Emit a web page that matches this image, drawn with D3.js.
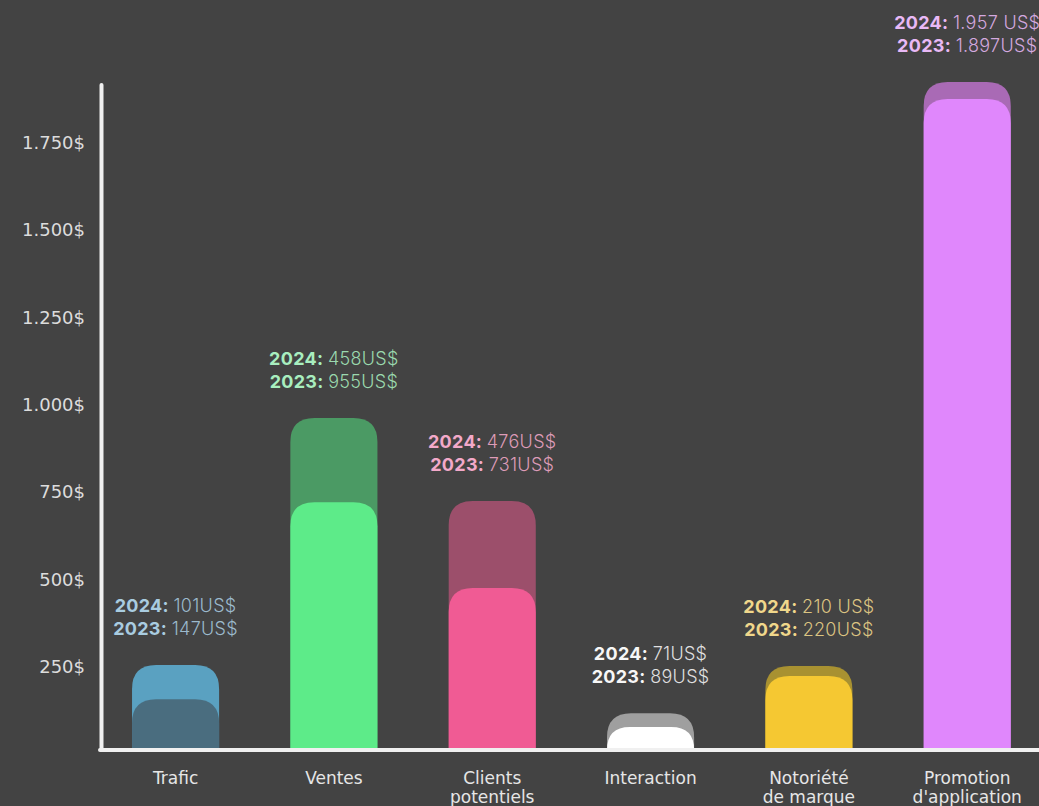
<!DOCTYPE html>
<html>
<head>
<meta charset="utf-8">
<script src="https://cdn.jsdelivr.net/npm/d3@7"></script>
<style>
  html, body { margin: 0; padding: 0; background: #434343; overflow: hidden; }
  svg { display: block; }
</style>
</head>
<body>
<div id="chart"></div>
<script>
// Categories (x axis), two lines where the label wraps
const categories = ['Trafic', 'Ventes', 'Clients\npotentiels', 'Interaction', 'Notoriété\nde marque', "Promotion\nd'application"];

// Bar heights as drawn (back = tall translucent bar, front = bright bar)
const backValues = [255, 962, 724, 117, 252, 1924];
const frontValues = [157, 721, 475, 77, 223, 1875];

// Annotation texts above each bar
const labels2024 = ['101US$', '458US$', '476US$', '71US$', '210 US$', '1.957 US$'];
const labels2023 = ['147US$', '955US$', '731US$', '89US$', '220US$', '1.897US$'];

// Y tick values
const yTicks = [250, 500, 750, 1000, 1250, 1500, 1750];

// Colours
const backColors = ['#5aa1c1', '#4b9a64', '#9c4f6b', '#9f9f9f', '#a89131', '#a96ab5'];
const frontColors = ['#4a6d7f', '#5deb89', '#f05b94', '#ffffff', '#f5c832', '#e087fc'];
const labelColors = ['#a9cce0', '#a8eebf', '#f3a9c9', '#f7f7f7', '#f0d78b', '#e9b9f6'];

const W = 1039, H = 806;
const axisY = 750;

const svg = d3.select('#chart').append('svg')
  .attr('width', W)
  .attr('height', H);

// Scales
const x = d3.scaleBand()
  .domain(categories)
  .range([96.4, 1046.4])
  .paddingInner(0.45)
  .paddingOuter(0.225);

const y = d3.scaleLinear()
  .domain([0, 2000])
  .range([754, 55.4]);

const locale = d3.formatLocale({ decimal: ',', thousands: '.', grouping: [3], currency: ['', '$'] });
const fmt = locale.format('$,');

// Y axis labels
const yAxis = svg.append('g')
  .attr('transform', 'translate(101,0)')
  .call(d3.axisLeft(y).tickValues(yTicks).tickSize(0).tickPadding(16).tickFormat(fmt));
yAxis.select('.domain').remove();
yAxis.selectAll('text')
  .attr('fill', '#dcdcdc')
  .attr('font-family', 'DejaVu Sans')
  .attr('font-size', 18);

// Rounded-top bar path
function barPath(x0, w, top, bottom, r) {
  const rr = Math.min(r, bottom - top, w / 2);
  return `M${x0},${bottom}V${top + rr}Q${x0},${top} ${x0 + rr},${top}` +
    `H${x0 + w - rr}Q${x0 + w},${top} ${x0 + w},${top + rr}V${bottom}Z`;
}

const bars = svg.append('g');

bars.selectAll('.back')
  .data(categories)
  .join('path')
  .attr('class', 'back')
  .attr('fill', (d, i) => backColors[i])
  .attr('d', (d, i) => barPath(x(d), x.bandwidth(), y(backValues[i]), axisY, 24));

bars.selectAll('.front')
  .data(categories)
  .join('path')
  .attr('class', 'front')
  .attr('fill', (d, i) => frontColors[i])
  .attr('d', (d, i) => barPath(x(d), x.bandwidth(), y(frontValues[i]), axisY, 24));

// Annotations
const ann = svg.append('g')
  .attr('font-family', 'Inter, Lato, sans-serif')
  .attr('font-size', 18)
  .attr('letter-spacing', 0.3)
  .attr('text-anchor', 'middle');

categories.forEach((c, i) => {
  const cx = x(c) + x.bandwidth() / 2;
  const top = y(backValues[i]);
  const rows = [['2024:', labels2024[i]], ['2023:', labels2023[i]]];
  rows.forEach((r, j) => {
    const t = ann.append('text')
      .attr('x', cx)
      .attr('y', top - 36 - (1 - j) * 23 + 6)
      .attr('fill', labelColors[i]);
    t.append('tspan').attr('font-weight', 700).text(r[0] + ' ');
    t.append('tspan').attr('font-weight', 300).attr('fill-opacity', 0.88).text(r[1]);
  });
});

// Axis lines
svg.append('line')
  .attr('x1', 101.5).attr('x2', 101.5)
  .attr('y1', 85).attr('y2', axisY)
  .attr('stroke', '#f0f0f0')
  .attr('stroke-width', 4)
  .attr('stroke-linecap', 'round');

svg.append('line')
  .attr('x1', 100).attr('x2', W + 5)
  .attr('y1', axisY).attr('y2', axisY)
  .attr('stroke', '#f0f0f0')
  .attr('stroke-width', 4)
  .attr('stroke-linecap', 'round');

// X labels
const xl = svg.append('g')
  .attr('font-family', 'DejaVu Sans')
  .attr('font-size', 17)
  .attr('fill', '#e6e6e6')
  .attr('text-anchor', 'middle');

categories.forEach(c => {
  const t = xl.append('text')
    .attr('x', x(c) + x.bandwidth() / 2)
    .attr('y', 784);
  c.split('\n').forEach((line, k) => {
    t.append('tspan')
      .attr('x', x(c) + x.bandwidth() / 2)
      .attr('dy', k === 0 ? 0 : 19)
      .text(line);
  });
});
</script>
</body>
</html>
